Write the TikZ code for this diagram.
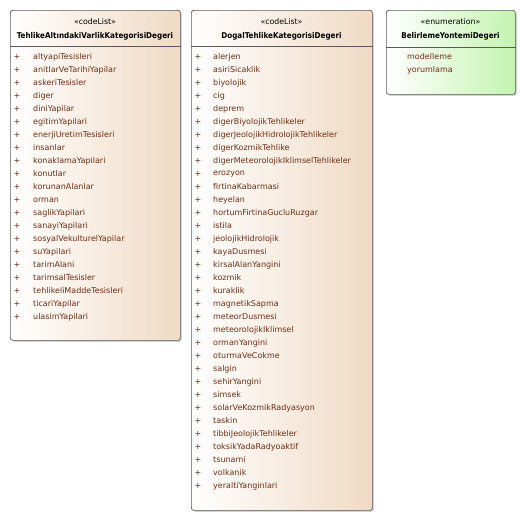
\documentclass[tikz,border=0pt]{standalone}
\usepackage{fontspec}
\setmainfont{DejaVu Sans}
\newfontfamily\titlefont{DejaVu Sans Condensed}
\usetikzlibrary{shadows}
\definecolor{peach}{RGB}{240,218,196}
\definecolor{mint}{RGB}{196,244,176}
\definecolor{edge}{RGB}{90,90,90}
\definecolor{itemtxt}{RGB}{110,45,20}
\tikzset{
  x=1pt, y=-1pt,
  boxbase/.style={draw=edge, line width=0.7pt, rounded corners=2.5pt, anchor=north west, inner sep=0pt,
    drop shadow={shadow xshift=1.5pt, shadow yshift=-1.5pt, opacity=0.35, fill=gray}},
  codebox/.style={boxbase, left color=white, right color=peach},
  enumbox/.style={boxbase, left color=white, right color=mint},
  stereo/.style={font=\fontsize{7.8}{9}\selectfont, inner sep=0pt},
  title/.style={font=\titlefont\fontsize{8}{9}\selectfont\bfseries, inner sep=0pt},
  item/.style={font=\fontsize{8}{9}\selectfont, text=itemtxt, anchor=west, inner sep=0pt},
  plus/.style={font=\fontsize{8}{9}\selectfont, text=itemtxt, anchor=center, inner sep=0pt},
  sep/.style={draw=edge, line width=0.7pt}
}
\begin{document}
\begin{tikzpicture}
\useasboundingbox (0,0) rectangle (520,520);
% left box
\node[codebox, minimum width=170pt, minimum height=330pt] (L) at (10,10) {};
\node[stereo] (Ls) at (95,22) {«codeList»};
\node[title] (Lt) at (95,36) {TehlikeAltındakiVarlikKategorisiDegeri};
\draw[sep] (L.west |- 0,46) coordinate (La) -- (L.east |- 0,46) coordinate (Lb);
\foreach \t [count=\i from 0] in {altyapiTesisleri,anitlarVeTarihiYapilar,askeriTesisler,diger,diniYapilar,egitimYapilari,enerjiUretimTesisleri,insanlar,konaklamaYapilari,konutlar,korunanAlanlar,orman,saglikYapilari,sanayiYapilari,sosyalVekulturelYapilar,suYapilari,tarimAlani,tarimsalTesisler,tehlikeliMaddeTesisleri,ticariYapilar,ulasimYapilari}{
  \node[plus] (Lp\i) at (17,57+13*\i) {+};
  \node[item] (Li\i) at (33,57+13*\i) {\t};
}
% middle box
\node[codebox, minimum width=181pt, minimum height=500pt] (M) at (191,10) {};
\node[stereo] (Ms) at (281.5,22) {«codeList»};
\node[title] (Mt) at (281.5,36) {DogalTehlikeKategorisiDegeri};
\draw[sep] (M.west |- 0,46) coordinate (Ma) -- (M.east |- 0,46) coordinate (Mb);
\foreach \t [count=\i from 0] in {alerjen,asiriSicaklik,biyolojik,cig,deprem,digerBiyolojikTehlikeler,digerJeolojikHidrolojikTehlikeler,digerKozmikTehlike,digerMeteorolojikIklimselTehlikeler,erozyon,firtinaKabarmasi,heyelan,hortumFirtinaGucluRuzgar,istila,jeolojikHidrolojik,kayaDusmesi,kirsalAlanYangini,kozmik,kuraklik,magnetikSapma,meteorDusmesi,meteorolojikIklimsel,ormanYangini,oturmaVeCokme,salgin,sehirYangini,simsek,solarVeKozmikRadyasyon,taskin,tibbiJeolojikTehlikeler,toksikYadaRadyoaktif,tsunami,volkanik,yeraltiYanginlari}{
  \node[plus] (Mp\i) at (198,57+13*\i) {+};
  \node[item] (Mi\i) at (213,57+13*\i) {\t};
}
% right box
\node[enumbox, minimum width=129pt, minimum height=84pt] (R) at (386,10) {};
\node[stereo] (Rs) at (450.5,22) {«enumeration»};
\node[title] (Rt) at (450.5,36) {BelirlemeYontemiDegeri};
\draw[sep] (R.west |- 0,47) coordinate (Ra) -- (R.east |- 0,47) coordinate (Rb);
\node[item] (R1) at (407,57) {modelleme};
\node[item] (R2) at (407,70) {yorumlama};
\end{tikzpicture}
\end{document}
